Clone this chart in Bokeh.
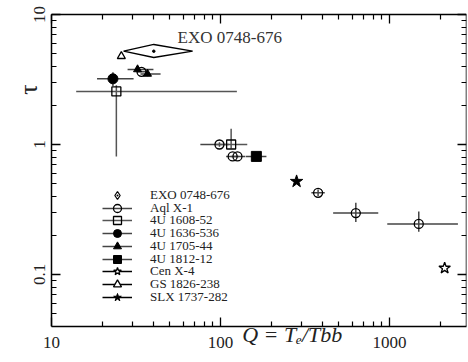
from math import pi
from bokeh.plotting import figure
from bokeh.models import (ColumnDataSource, Legend, LegendItem, Label, LogAxis,
                          FixedTicker, LogTickFormatter)
from bokeh.embed import file_html
from bokeh.resources import INLINE

FONT = "Liberation Serif"

# ---------------- data ----------------
names = ["EXO 0748-676", "Aql X-1", "4U 1608-52", "4U 1636-536", "4U 1705-44",
         "4U 1812-12", "Cen X-4", "GS 1826-238", "SLX 1737-282"]

exo_q, exo_q_lo, exo_q_hi = [40.3], [26.7], [68.4]
exo_tau, exo_tau_lo, exo_tau_hi = [5.22], [4.67], [5.88]

aql_q = [34.1, 98.6, 118, 126, 378, 632, 1490]
aql_q_lo = [32, 76, 108, 116, 345, 464, 970]
aql_q_hi = [37, 112, 128, 140, 414, 858, 2540]
aql_tau = [3.62, 1.0, 0.81, 0.81, 0.425, 0.297, 0.245]
aql_tau_lo = [3.62, 0.96, 0.81, 0.81, 0.40, 0.253, 0.213]
aql_tau_hi = [3.62, 1.04, 0.81, 0.81, 0.45, 0.357, 0.305]

u1608_q = [24.2, 115.6]
u1608_q_lo = [14.0, 93]
u1608_q_hi = [125, 144]
u1608_tau = [2.56, 1.0]
u1608_tau_lo = [0.81, 0.93]
u1608_tau_hi = [2.85, 1.32]

u1636_q, u1636_q_lo, u1636_q_hi = [23.1], [18.6], [30.6]
u1636_tau, u1636_tau_lo, u1636_tau_hi = [3.2], [2.82], [3.6]

u1705_q = [32.3, 37.0]
u1705_q_lo = [28.2, 33.6]
u1705_q_hi = [40.1, 44.2]
u1705_tau = [3.78, 3.49]
u1705_tau_lo = [3.6, 3.35]
u1705_tau_hi = [3.95, 3.65]

u1812_q, u1812_q_lo, u1812_q_hi = [163], [141], [187]
u1812_tau, u1812_tau_lo, u1812_tau_hi = [0.81], [0.76], [0.86]

cen_q, cen_tau = [2120], [0.112]
gs_q, gs_tau = [25.9], [4.78]
slx_q, slx_tau = [282], [0.52]

# axes box (data limits of the drawn box) and ticks
box_x = (10, 2850)
box_y = (0.0398, 10)
x_major = [10, 100, 1000]
x_minor = [20, 30, 40, 50, 60, 70, 80, 90, 200, 300, 400, 500, 600, 700, 800, 900, 2000]
y_major = [0.1, 1, 10]
y_tick_labels = ["0.1", "1", "10"]
y_minor = [0.05, 0.06, 0.07, 0.08, 0.09, 0.2, 0.3, 0.4, 0.5, 0.6, 0.7, 0.8, 0.9,
           2, 3, 4, 5, 6, 7, 8, 9]
x_title = "Q = Tₑ/Tbb"
y_title = "τ"

# ---------------- figure ----------------
# The frame reaches the left, top and right canvas edges (those box sides are
# axes at fixed data locations); the bottom box side is the regular x axis.
p = figure(frame_width=464, frame_height=324, x_axis_type="log", y_axis_type="log",
           x_range=(5.13, 2855), y_range=(box_y[0], 12.37), output_backend="svg",
           toolbar_location=None, min_border_left=2, min_border_right=2,
           min_border_top=2, min_border_bottom=36)
p.grid.visible = False
p.outline_line_color = None
p.background_fill_color = "white"
p.border_fill_color = "white"


def style_axis(ax, ticks, minor, bounds, loc=None, labels=False):
    ax.ticker = FixedTicker(ticks=ticks, minor_ticks=minor)
    ax.bounds = bounds
    if loc is not None:
        ax.fixed_location = loc
    ax.major_tick_in = 9
    ax.major_tick_out = 0
    ax.minor_tick_in = 5
    ax.minor_tick_out = 0
    ax.axis_line_color = "black"
    ax.axis_line_width = 1.5
    ax.major_tick_line_color = "black"
    ax.major_tick_line_width = 1.3
    ax.minor_tick_line_color = "black"
    ax.minor_tick_line_width = 1.2
    ax.formatter = LogTickFormatter(min_exponent=5)
    if labels:
        ax.major_label_text_font = FONT
        ax.major_label_text_font_size = "17px"
        ax.major_label_text_color = "#222222"
    else:
        ax.major_label_text_font_size = "1px"
        ax.major_label_text_alpha = 0
        ax.major_label_standoff = 0


# bottom: regular axis with its own tick labels and title
xb = p.xaxis[0]
style_axis(xb, x_major, x_minor, box_x, labels=True)
xb.major_label_standoff = 10
xb.axis_label = "\u00a0" * 21 + x_title
xb.axis_label_standoff = -29
xb.axis_label_text_font = FONT
xb.axis_label_text_font_size = "22px"
xb.axis_label_text_font_style = "italic"
xb.axis_label_text_color = "#222222"

style_axis(p.yaxis[0], y_major, y_minor, box_y, loc=box_x[0])
top = LogAxis()
style_axis(top, x_major, x_minor, box_x, loc=box_y[1])
p.add_layout(top, "above")
right = LogAxis()
style_axis(right, y_major, y_minor, box_y, loc=box_x[1])
p.add_layout(right, "right")

# y tick labels, placed at the tick values
for v, t in zip(y_major, y_tick_labels):
    p.add_layout(Label(x=box_x[0], y=v, x_offset=-11.5, text=t, angle=pi / 2,
                       text_font=FONT, text_font_size="17px", text_color="#222222",
                       text_align="center", text_baseline="alphabetic"))

ERR = "#444444"


def errbars(q, qlo, qhi, t, tlo, thi, color=ERR):
    x0 = list(qlo) + list(q)
    x1 = list(qhi) + list(q)
    y0 = list(t) + list(tlo)
    y1 = list(t) + list(thi)
    src = ColumnDataSource(dict(x0=x0, x1=x1, y0=y0, y1=y1))
    return p.segment("x0", "y0", "x1", "y1", source=src, line_color=color, line_width=1.5)


def nobars(q, t):
    src = ColumnDataSource(dict(x0=q, x1=q, y0=t, y1=t))
    return p.segment("x0", "y0", "x1", "y1", source=src, line_color="black", line_width=1.5)


# EXO 0748-676: diamond spanning its range, with a dot in the middle
exo_xs = [[exo_q_lo[0], exo_q[0], exo_q_hi[0], exo_q[0]]]
exo_ys = [[exo_tau[0], exo_tau_hi[0], exo_tau[0], exo_tau_lo[0]]]
p.patches(exo_xs, exo_ys, fill_color=None, line_color="black", line_width=1.3)
exo_dot = p.scatter(exo_q, exo_tau, size=2.5, color="black")
# legend glyph only (size 0 in the plot; legends draw markers at a fixed size)
exo_leg = p.scatter(exo_q, exo_tau, marker="diamond_dot", size=0, fill_color=None,
                    line_color="black", line_width=1.2)

r_aql_e = errbars(aql_q, aql_q_lo, aql_q_hi, aql_tau, aql_tau_lo, aql_tau_hi)
r_1608_e = errbars(u1608_q, u1608_q_lo, u1608_q_hi, u1608_tau, u1608_tau_lo, u1608_tau_hi, "#555555")
r_1636_e = errbars(u1636_q, u1636_q_lo, u1636_q_hi, u1636_tau, u1636_tau_lo, u1636_tau_hi)
r_1705_e = errbars(u1705_q, u1705_q_lo, u1705_q_hi, u1705_tau, u1705_tau_lo, u1705_tau_hi)
r_1812_e = errbars(u1812_q, u1812_q_lo, u1812_q_hi, u1812_tau, u1812_tau_lo, u1812_tau_hi)
r_cen_e = nobars(cen_q, cen_tau)
r_gs_e = nobars(gs_q, gs_tau)
r_slx_e = nobars(slx_q, slx_tau)

r_aql = p.scatter(aql_q, aql_tau, marker="circle", size=9, fill_color=None,
                  line_color="black", line_width=1.3)
r_1608 = p.scatter(u1608_q, u1608_tau, marker="square", size=9, fill_color=None,
                   line_color="black", line_width=1.3)
r_1636 = p.scatter(u1636_q, u1636_tau, marker="circle", size=10, color="black")
r_1705 = p.scatter(u1705_q, u1705_tau, marker="triangle", size=8, color="black")
r_1812 = p.scatter(u1812_q, u1812_tau, marker="square", size=10, color="black")
r_cen = p.scatter(cen_q, cen_tau, marker="star", size=12, fill_color="white",
                  line_color="black", line_width=1.3)
r_gs = p.scatter(gs_q, gs_tau, marker="triangle", size=8, fill_color="white",
                 line_color="black", line_width=1.3)
r_slx = p.scatter(slx_q, slx_tau, marker="star", size=13, color="black")

legend_renderers = [
    [exo_leg],
    [r_aql_e, r_aql],
    [r_1608_e, r_1608],
    [r_1636_e, r_1636],
    [r_1705_e, r_1705],
    [r_1812_e, r_1812],
    [r_cen_e, r_cen],
    [r_gs_e, r_gs],
    [r_slx_e, r_slx],
]

# one compact legend row per source (rows packed tighter than a single Legend allows)
ROW_PITCH = 12.7
FIRST_BOTTOM = 121   # px above the frame bottom for the first row's box
for i, (nm, rs) in enumerate(zip(names, legend_renderers)):
    lg = Legend(items=[LegendItem(label=nm, renderers=rs)],
                location=(100, FIRST_BOTTOM - i * ROW_PITCH), padding=0, margin=0,
                glyph_width=30, glyph_height=20, spacing=0, label_standoff=18,
                label_text_font=FONT, label_text_font_size="13px",
                label_text_color="#222222", border_line_alpha=0,
                background_fill_alpha=0)
    p.add_layout(lg)

# annotation next to the EXO diamond
p.add_layout(Label(x=55.7, y=6.65, text="EXO 0748-676", text_font=FONT,
                   text_font_size="17px", text_color="#333333", text_baseline="middle"))

# y axis title, offset from the box's top-left corner
p.add_layout(Label(x=box_x[0], y=box_y[1], x_offset=-23, y_offset=-75, text=y_title,
                   angle=pi / 2, text_font=FONT, text_font_size="26px",
                   text_align="center", text_baseline="alphabetic", text_color="#222222"))

open("out.html", "w").write(file_html(p, INLINE))
